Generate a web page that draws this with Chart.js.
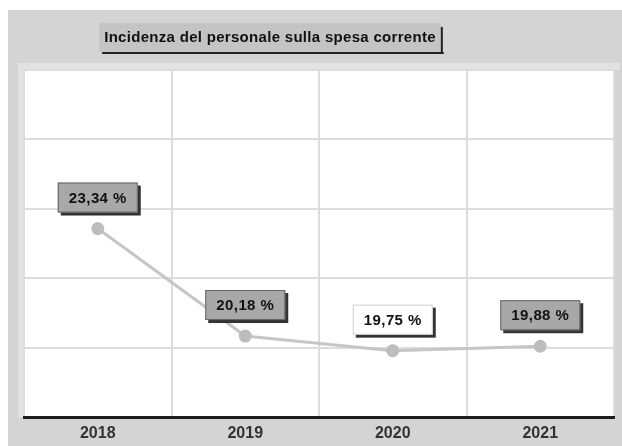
<!DOCTYPE html>
<html>
<head>
<meta charset="utf-8">
<script src="https://cdn.jsdelivr.net/npm/chart.js@4/dist/chart.umd.min.js"></script>
<style>
  html, body { margin: 0; padding: 0; background: #fff; }
  #wrap { width: 622px; height: 446px; }
</style>
</head>
<body>
<div id="wrap"><canvas id="chart" width="622" height="446"></canvas></div>
<script>
const years = ['2018', '2019', '2020', '2021'];
const incidenza = [23.34, 20.18, 19.75, 19.88];
const valueLabels = ['23,34 %', '20,18 %', '19,75 %', '19,88 %'];
const yGrid = [17.8, 19.84, 21.88, 23.92, 25.96, 28];
const titleText = 'Incidenza del personale sulla spesa corrente';

const FONT = '"Liberation Sans", Arial, sans-serif';

// sfondo grigio, riquadro titolo, cornice area grafico
const frame = {
    id: 'frame',
    beforeDraw(chart) {
        const ctx = chart.ctx;
        const a = chart.chartArea;
        ctx.save();
        ctx.fillStyle = '#fff';
        ctx.fillRect(0, 0, chart.width, chart.height);
        ctx.fillStyle = '#d4d4d4';
        ctx.fillRect(8, 10, chart.width - 8, chart.height - 10);
        // cornice chiara intorno al grafico
        ctx.fillStyle = '#e2e2e2';
        ctx.fillRect(a.left - 6, a.top - 7, a.right - a.left + 12, 7);
        ctx.fillRect(a.left - 6, a.top, 6, a.bottom - a.top);
        ctx.fillStyle = '#fff';
        ctx.fillRect(a.left, a.top, a.right - a.left, a.bottom - a.top);

        // titolo
        ctx.font = 'bold 15px ' + FONT;
        ctx.letterSpacing = '0.3px';
        const tw = ctx.measureText(titleText).width;
        const cx = 270, cy = 38;
        const bx = cx - tw / 2 - 5, by = 23, bw = tw + 10, bh = 29;
        ctx.fillStyle = '#c4c4c4';
        ctx.fillRect(bx, by, bw, bh);
        ctx.fillStyle = '#222';
        ctx.fillRect(bx + 3, by + bh, bw, 2);
        ctx.fillRect(bx + bw, by + 4, 2, bh - 2);
        ctx.fillStyle = '#111';
        ctx.textAlign = 'center';
        ctx.textBaseline = 'middle';
        ctx.fillText(titleText, cx, cy);
        ctx.restore();
    }
};

// etichette dei valori sopra i punti
const valueBoxes = {
    id: 'valueBoxes',
    afterDatasetsDraw(chart, args, opts) {
        const ctx = chart.ctx;
        const meta = chart.getDatasetMeta(0);
        ctx.save();
        ctx.font = 'bold 15px ' + FONT;
        ctx.letterSpacing = '0.4px';
        ctx.textAlign = 'center';
        ctx.textBaseline = 'middle';
        meta.data.forEach((pt, i) => {
            const w = 80, h = 30;
            const x = pt.x - w / 2, y = pt.y - 31 - h / 2;
            ctx.fillStyle = '#333';
            ctx.fillRect(x + 3, y + 3, w, h);
            ctx.fillStyle = opts.fills[i];
            ctx.fillRect(x, y, w, h);
            ctx.strokeStyle = opts.fills[i] === '#ffffff' ? '#d0d0d0' : '#666';
            ctx.lineWidth = 1;
            ctx.strokeRect(x + 0.5, y + 0.5, w - 1, h - 1);
            ctx.fillStyle = '#111';
            ctx.fillText(valueLabels[i], pt.x, y + h / 2 + 1);
        });
        ctx.restore();
    }
};

new Chart(document.getElementById('chart'), {
    type: 'line',
    data: {
        labels: years,
        datasets: [{
            data: incidenza,
            borderColor: '#c6c6c6',
            borderWidth: 3,
            pointRadius: 5,
            pointBackgroundColor: '#bdbdbd',
            pointBorderColor: '#bdbdbd',
            tension: 0
        }]
    },
    options: {
        responsive: false,
        animation: false,
        events: [],
        layout: { padding: { left: 24, right: 7, top: 70, bottom: 0 } },
        plugins: {
            legend: { display: false },
            tooltip: { enabled: false },
            valueBoxes: { fills: ['#a8a8a8', '#a8a8a8', '#ffffff', '#a8a8a8'] }
        },
        scales: {
            x: {
                offset: true,
                afterFit(scale) {
                    scale.height = 29;
                },
                grid: { offset: true, color: '#dcdcdc', lineWidth: 2, drawTicks: false },
                border: { display: true, color: '#1e1e1e', width: 3 },
                ticks: { color: '#333', padding: 7, font: { family: FONT, size: 16, weight: 'bold' } }
            },
            y: {
                min: 17.8,
                max: 28,
                afterBuildTicks(scale) {
                    scale.ticks = yGrid.map(v => ({ value: v }));
                },
                grid: { color: '#dcdcdc', lineWidth: 2, drawTicks: false },
                border: { display: false },
                ticks: { display: false }
            }
        }
    },
    plugins: [frame, valueBoxes]
});
</script>
</body>
</html>
